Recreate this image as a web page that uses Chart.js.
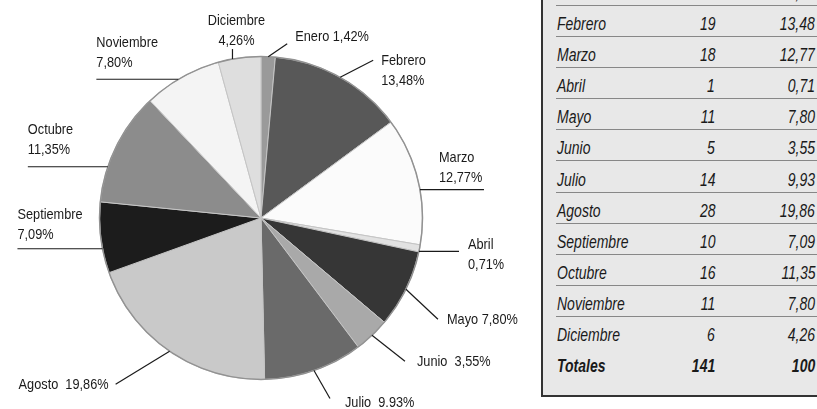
<!DOCTYPE html>
<html>
<head>
<meta charset="utf-8">
<script src="https://cdn.jsdelivr.net/npm/chart.js@4.4.0/dist/chart.umd.min.js"></script>
<style>
  html, body { margin: 0; padding: 0; background: #fff; width: 817px; height: 409px; overflow: hidden; }
  #chartBox { position: absolute; left: 0; top: 0; width: 540px; height: 409px; }
  #tabla {
    position: absolute; left: 541px; top: -80px; width: 320px; height: 475px;
    background: #e8e8e8; border-left: 2px solid #333; border-bottom: 2px solid #333;
    font-family: 'Liberation Sans', Arial, sans-serif;
    font-style: italic; font-size: 17.5px; color: #1a1a1a;
  }
  .fila { position: absolute; left: 13px; width: 320px; height: 31px; }
  .fila.linea { border-bottom: 1.6px solid #878787; }
  .fila span { position: absolute; top: 9px; line-height: 20px; white-space: nowrap; }
  .fila .mes { left: 1px; transform: scaleX(0.8); transform-origin: left center; }
  .fila .num { right: 161px; transform: scaleX(0.8); transform-origin: right center; }
  .fila .pct { right: 61px; transform: scaleX(0.8); transform-origin: right center; }
  .fila.total { font-weight: bold; }
</style>
</head>
<body>
<div id="chartBox"><canvas id="pie"></canvas></div>
<div id="tabla"></div>
<script>
const meses = ['Enero', 'Febrero', 'Marzo', 'Abril', 'Mayo', 'Junio', 'Julio',
  'Agosto', 'Septiembre', 'Octubre', 'Noviembre', 'Diciembre'];
const casos = [2, 19, 18, 1, 11, 5, 14, 28, 10, 16, 11, 6];
const porcentajes = ['1,42', '13,48', '12,77', '0,71', '7,80', '3,55', '9,93',
  '19,86', '7,09', '11,35', '7,80', '4,26'];
const totalCasos = 141;
const totalPct = '100';

// textos de las etiquetas del gráfico, como aparecen en la figura
const etiquetas = [
  ['Enero 1,42%'], ['Febrero', '13,48%'], ['Marzo', '12,77%'], ['Abril', '0,71%'],
  ['Mayo 7,80%'], ['Junio  3,55%'], ['Julio  9.93%'], ['Agosto  19,86%'],
  ['Septiembre', '7,09%'], ['Octubre', '11,35%'], ['Noviembre', '7,80%'], ['Diciembre', '4,26%']
];

const grises = ['#9a9a9a', '#585858', '#fbfbfb', '#e2e2e2', '#363636', '#a9a9a9',
  '#6a6a6a', '#c9c9c9', '#1c1c1c', '#8c8c8c', '#f4f4f4', '#dedede'];

// posición de cada etiqueta respecto al borde de su sector
const layoutEtiquetas = [
  { tipo: 'd', dx: 19, dy: -13, tx: 8, ty: -7, align: 'left' },
  { tipo: 'd', dx: 33, dy: -17, tx: 8, ty: 1, align: 'left' },
  { tipo: 'h', d: 9, l: 64, tx: -45, ty: -32, align: 'left' },
  { tipo: 'h', d: 3, l: 40, tx: 9, ty: -7, align: 'left' },
  { tipo: 'd', dx: 32, dy: 30, tx: 9, ty: 1, align: 'left' },
  { tipo: 'd', dx: 33, dy: 26, tx: 12, ty: 1, align: 'left' },
  { tipo: 'd', dx: 16, dy: 28, tx: 15, ty: 4, align: 'left' },
  { tipo: 'd', dx: -54, dy: 33, tx: -7, ty: 1, align: 'right' },
  { tipo: 'h', d: 11, l: -85, tx: 0, ty: -34, align: 'left' },
  { tipo: 'h', d: 20, l: -80, tx: 0, ty: -37, align: 'left' },
  { tipo: 'h', d: 2, l: -82, tx: 0, ty: -36, align: 'left' },
  { tipo: 'v', d: -7, l: 10, tx: 4, ty: -28.6, align: 'center' }
];

const etiquetasPlugin = {
  id: 'etiquetas',
  afterDatasetsDraw(chart) {
    const ctx = chart.ctx;
    const arcs = chart.getDatasetMeta(0).data;
    ctx.save();
    const a0 = arcs[0];
    ctx.beginPath();
    ctx.arc(a0.x, a0.y, a0.outerRadius, 0, Math.PI * 2);
    ctx.strokeStyle = '#929292';
    ctx.lineWidth = 1.5;
    ctx.stroke();

    ctx.font = "15px 'Liberation Sans', Arial, sans-serif";
    ctx.fillStyle = '#1a1a1a';
    ctx.strokeStyle = '#1a1a1a';
    ctx.lineWidth = 1.2;
    ctx.textBaseline = 'middle';
    arcs.forEach((arc, i) => {
      const lay = layoutEtiquetas[i];
      const cx = arc.x, cy = arc.y, r = arc.outerRadius;
      const mid = (arc.startAngle + arc.endAngle) / 2;
      let sx = cx + r * Math.cos(mid), sy = cy + r * Math.sin(mid), ex, ey;
      if (lay.tipo === 'h') {
        sy += lay.d;
        const w = Math.sqrt(r * r - (sy - cy) * (sy - cy));
        sx = cx + (lay.l > 0 ? w : -w);
        ex = sx + lay.l; ey = sy;
      } else if (lay.tipo === 'v') {
        sx += lay.d;
        sy = cy - Math.sqrt(r * r - (sx - cx) * (sx - cx));
        ex = sx; ey = sy - lay.l;
      } else {
        ex = sx + lay.dx; ey = sy + lay.dy;
      }
      ctx.beginPath();
      ctx.moveTo(sx, sy);
      ctx.lineTo(ex, ey);
      ctx.stroke();
      ctx.textAlign = lay.align;
      etiquetas[i].forEach((t, k) => {
        // letra estrecha: se comprime el texto en horizontal
        ctx.save();
        ctx.translate(ex + lay.tx, ey + lay.ty + k * 20);
        ctx.scale(0.85, 1);
        ctx.fillText(t, 0, 0);
        ctx.restore();
      });
    });
    ctx.restore();
  }
};

new Chart(document.getElementById('pie'), {
  type: 'pie',
  data: {
    labels: meses,
    datasets: [{
      data: casos,
      backgroundColor: grises,
      borderColor: '#c4c4c4',
      borderWidth: 1
    }]
  },
  options: {
    responsive: true,
    maintainAspectRatio: false,
    animation: false,
    layout: { padding: { left: 99, right: 117, top: 56, bottom: 29 } },
    plugins: { legend: { display: false }, tooltip: { enabled: false } }
  },
  plugins: [etiquetasPlugin]
});

// tabla de la derecha
const tabla = document.getElementById('tabla');
const tablaTop = -80;
const filas = meses.map((m, i) => [m, casos[i], porcentajes[i]]);
filas.push(['Totales', totalCasos, totalPct]);
filas.forEach((f, i) => {
  const div = document.createElement('div');
  div.className = 'fila' + (i < 11 ? ' linea' : '') + (i === 12 ? ' total' : '');
  div.style.top = (5 + 31.1 * i - 31.1 - tablaTop) + 'px';
  div.innerHTML = '<span class="mes">' + f[0] + '</span><span class="num">' + f[1] +
    '</span><span class="pct">' + f[2] + '</span>';
  tabla.appendChild(div);
});
</script>
</body>
</html>
